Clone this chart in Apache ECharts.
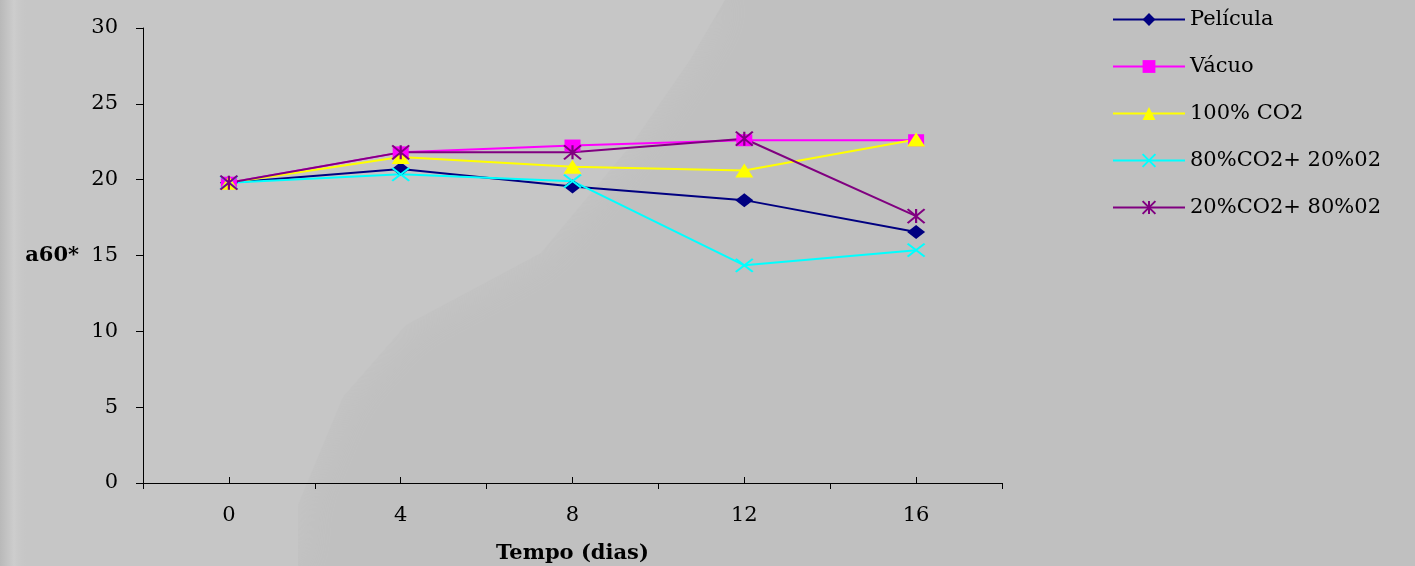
<!DOCTYPE html>
<html><head><meta charset="utf-8">
<script src="https://cdn.jsdelivr.net/npm/echarts@6/dist/echarts.min.js"></script>
<style>html,body{margin:0;padding:0;background:#c0c0c0;overflow:hidden;}#c{width:1415px;height:566px;}</style>
</head><body><div id="c"></div>
<script>
const categories = ['0','4','8','12','16'];
const pelicula = [19.8, 20.7, 19.55, 18.65, 16.55];
const vacuo = [19.8, 21.8, 22.25, 22.6, 22.6];
const co2_100 = [19.8, 21.5, 20.85, 20.6, 22.65];
const co2_80 = [19.8, 20.35, 19.9, 14.35, 15.35];
const co2_20 = [19.8, 21.8, 21.8, 22.7, 17.6];
const yTicks = {min: 0, max: 30, interval: 5};

const font = 'DejaVu Serif';
const FS = 21;
const X_PATH = 'path://M0,0L10,10M10,0L0,10';
const AST_PATH = 'path://M5,0L5,10M0,0L10,10M10,0L0,10';

function mk(name, data, color, symbol, size, stroke) {
  return {
    name, type: 'line', data, xAxisIndex: 0,
    symbol, symbolSize: size,
    lineStyle: {color, width: 2},
    itemStyle: stroke ? {color: color, borderColor: color, borderWidth: 2} : {color},
    emphasis: {disabled: true},
    animation: false
  };
}

const chart = echarts.init(document.getElementById('c'));
chart.setOption({
  backgroundColor: '#c0c0c0',
  animation: false,
  graphic: [{
    type: 'polygon', z: -10, silent: true,
    shape: {points: [[0,0],[725,0],[690,60],[632,144],[541,253],[406,325],[343,397],[298,505],[298,566],[0,566]]},
    style: {fill: '#c6c6c6', shadowBlur: 40, shadowColor: '#c6c6c6'}
  }, {
    type: 'rect', left: 0, top: 0, z: -9, silent: true,
    shape: {width: 28, height: 566},
    style: {fill: new echarts.graphic.LinearGradient(0, 0, 1, 0, [
      {offset: 0, color: '#b9b9b9'}, {offset: 0.5, color: '#cdcdcd'}, {offset: 1, color: 'rgba(198,198,198,0)'}])}
  }],
  grid: {left: 143, right: 413, top: 28, bottom: 83, outerBoundsMode: 'none', containLabel: false},
  legend: {
    orient: 'vertical', left: 1107, top: 4,
    itemWidth: 72, itemHeight: 16, itemGap: 26,
    textStyle: {fontFamily: font, fontSize: FS, color: '#000'},
    data: ['Película','Vácuo','100% CO2','80%CO2+ 20%02','20%CO2+ 80%02']
  },
  xAxis: [{
    type: 'category', data: categories, boundaryGap: true,
    axisLine: {lineStyle: {color: '#000', width: 1}},
    axisTick: {show: true, length: 6, lineStyle: {color: '#000'}},
    axisLabel: {fontFamily: font, fontSize: FS, color: '#000', margin: 22},
    name: 'Tempo (dias)', nameLocation: 'middle', nameGap: 60,
    nameTextStyle: {fontFamily: font, fontSize: FS, fontWeight: 'bold', color: '#000'},
    splitLine: {show: false}
  }, {
    type: 'category', data: categories, boundaryGap: true, position: 'bottom',
    axisLine: {show: false},
    axisTick: {show: true, alignWithLabel: true, inside: true, length: 6, lineStyle: {color: '#000'}},
    axisLabel: {show: false}, splitLine: {show: false}
  }],
  yAxis: {
    type: 'value', min: yTicks.min, max: yTicks.max, interval: yTicks.interval,
    axisLine: {show: true, lineStyle: {color: '#000'}},
    axisTick: {show: true, length: 7, lineStyle: {color: '#000'}},
    axisLabel: {fontFamily: font, fontSize: FS, color: '#000', margin: 25},
    splitLine: {show: false},
    name: 'a60*', nameLocation: 'middle', nameRotate: 0, nameGap: 64,
    nameTextStyle: {fontFamily: font, fontSize: FS, fontWeight: 'bold', color: '#000'}
  },
  series: [
    mk('Película', pelicula, '#000080', 'diamond', [18, 14], false),
    mk('Vácuo', vacuo, '#ff00ff', 'rect', [16, 12], false),
    mk('100% CO2', co2_100, '#ffff00', 'triangle', [18, 14], false),
    mk('80%CO2+ 20%02', co2_80, '#00ffff', X_PATH, [17, 13], true),
    mk('20%CO2+ 80%02', co2_20, '#800080', AST_PATH, [17, 14], true)
  ]
});
</script></body></html>
